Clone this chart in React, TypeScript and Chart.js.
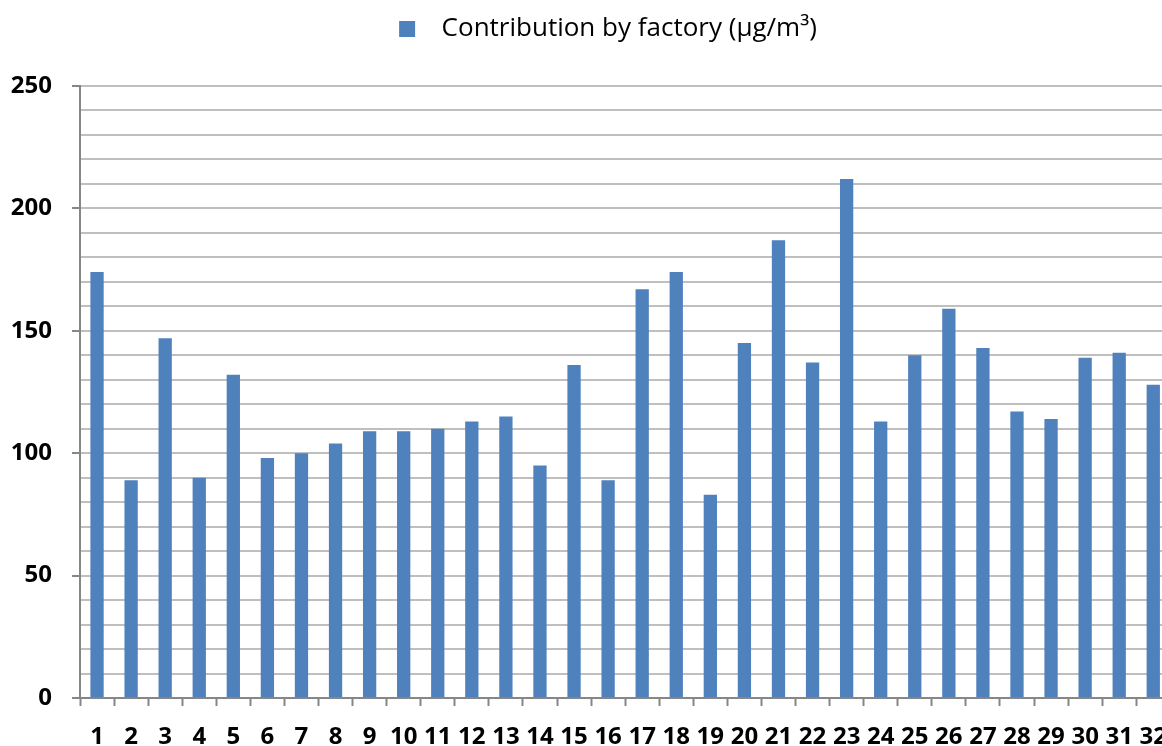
import React, { useEffect, useRef } from 'react';
import { Chart, registerables } from 'chart.js';

Chart.register(...registerables);

const categories = ['1','2','3','4','5','6','7','8','9','10','11','12','13','14','15','16','17','18','19','20','21','22','23','24','25','26','27','28','29','30','31','32'];
const contribution = [174, 89, 147, 90, 132, 98, 100, 104, 109, 109, 110, 113, 115, 95, 136, 89, 167, 174, 83, 145, 187, 137, 212, 113, 140, 159, 143, 117, 114, 139, 141, 128];
const seriesLabel = 'Contribution by factory (µg/m³)';
const yMin = 0;
const yMax = 250;
const yGridStep = 10;
const yLabelStep = 50;

const FONT = '"Open Sans", "Noto Sans", "Liberation Sans", sans-serif';
const BAR = '#4f81bd';
const AXIS = '#868686';
const GRID = '#bfbfbf';

// lets the y tick labels use the space left of the axis box (avoids clipping)
const widenYAxis = {
  id: 'widenYAxis',
  afterLayout(chart: any) {
    const y = chart.scales.y;
    if (y) {
      y.left = 0;
      y.width = y.right;
    }
  },
};

export default function App() {
  const ref = useRef<HTMLCanvasElement | null>(null);

  useEffect(() => {
    if (!ref.current) return;
    const chart = new Chart(ref.current, {
      type: 'bar',
      data: {
        labels: categories,
        datasets: [
          {
            label: seriesLabel,
            data: contribution,
            backgroundColor: BAR,
            borderWidth: 0,
            barPercentage: 0.39,
            categoryPercentage: 1,
          },
        ],
      },
      plugins: [widenYAxis],
      options: {
        responsive: false,
        animation: false,
        layout: { padding: { top: 6, left: 32, right: 0, bottom: 0 } },
        plugins: {
          tooltip: { enabled: false },
          legend: {
            display: true,
            position: 'top',
            labels: {
              boxWidth: 16,
              boxHeight: 16,
              padding: 10,
              color: '#000',
              font: { family: FONT, size: 26 },
              generateLabels: (c: any) =>
                Chart.defaults.plugins.legend.labels.generateLabels(c).map((l: any) => ({
                  ...l,
                  text: '  ' + l.text,
                  lineWidth: 0,
                })),
            },
          },
          subtitle: {
            display: true,
            text: '',
            weight: 500,
            font: { size: 1, lineHeight: 1 },
            padding: { top: 0, bottom: 33 },
          },
        },
        scales: {
          x: {
            type: 'category',
            grid: {
              display: true,
              drawOnChartArea: false,
              drawTicks: true,
              tickLength: 8,
              tickColor: AXIS,
              tickWidth: 2,
              offset: true,
            },
            border: { display: true, color: AXIS, width: 2 },
            ticks: {
              autoSkip: false,
              maxRotation: 0,
              minRotation: 0,
              padding: 17,
              color: '#000',
              font: { family: FONT, size: 24, weight: 'bold' },
            },
            afterFit: (s: any) => {
              s.height = 48;
            },
          },
          y: {
            min: yMin,
            max: yMax,
            grid: {
              color: GRID,
              lineWidth: 2,
              drawTicks: true,
              tickLength: 8,
              tickWidth: 2,
              tickColor: (ctx: any) =>
                ctx.tick && ctx.tick.value % yLabelStep === 0 ? AXIS : 'rgba(0,0,0,0)',
            },
            border: { display: true, color: AXIS, width: 2 },
            ticks: {
              stepSize: yGridStep,
              autoSkip: false,
              padding: 20,
              color: '#000',
              font: { family: FONT, size: 24, weight: 'bold' },
              callback: (v: any) => (Number(v) % yLabelStep === 0 ? String(v) : ''),
            },
            afterFit: (s: any) => {
              s.width = 48;
            },
          },
        },
      },
    });
    return () => chart.destroy();
  }, []);

  return (
    <div
      style={{
        position: 'fixed',
        left: 0,
        top: 0,
        width: 1162,
        height: 746,
        overflow: 'hidden',
        background: '#fff',
      }}
    >
      <canvas ref={ref} width={1184} height={746} style={{ display: 'block' }} />
    </div>
  );
}
